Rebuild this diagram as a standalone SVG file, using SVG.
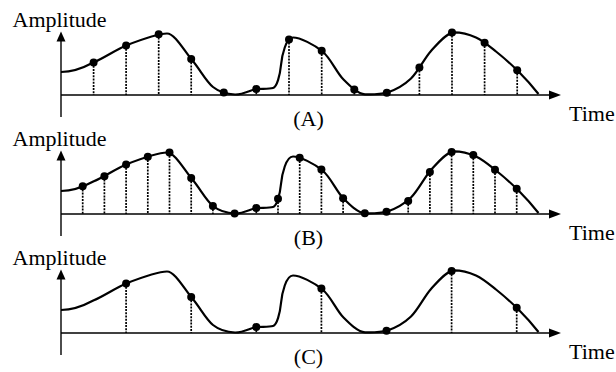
<svg xmlns="http://www.w3.org/2000/svg" xmlns:xlink="http://www.w3.org/1999/xlink" width="616" height="372" viewBox="0 0 616 372">
<style>
  .txt{font-family:"Liberation Serif","Times New Roman",serif;font-size:22px;fill:#000}
  .axis{stroke:#000;stroke-width:1.4;fill:none}
  .curve{stroke:#000;stroke-width:2.2;fill:none;stroke-linejoin:round}
  .stem{stroke:#000;stroke-width:1.7;stroke-dasharray:2 1.2}
  .dot{fill:#000}
  .head{fill:#000}
</style>
<defs>
  <path id="wave" class="curve" d="M61,72 C71,72 84,67.5 93.3,62.5 C104.1,58.1 115.1,50.2 126,45.5 C138.3,40.7 159,33.5 167,33.5 C175,33.5 184.3,51.1 192,60 C199.7,68.9 205.8,81.25 213,87 C220.2,92.75 227.5,94.2 235,94.5 C242.5,94.8 252,89.5 256,89 C262,88.5 269,89.2 273,88 C277,87 280,75 281,65 C282,55 286,37.5 293,37.5 C300,37.5 314.1,44.5 322.5,51.5 C330.9,58.5 336.4,72.4 343.5,79.5 C350.6,86.6 358,94 365,94.3 C372,94.5 380,94.5 387.5,92.5 C395.2,89.9 403.75,85.4 411,78.5 C418.25,71.6 424.1,58.7 431,51 C437.9,43.3 447,32.5 454,32.3 C461,32.3 469,34.3 476,37.5 C483,40.7 489,45.9 496,51.5 C503,57.1 510.9,63.9 518,71 C525.1,78.1 533,87 538.5,94"/>
  <g id="axes">
    <line class="axis" x1="61" y1="95" x2="551" y2="95"/>
    <polygon class="head" points="561,95 549,90.5 549,99.5"/>
    <line class="axis" x1="61" y1="117" x2="61" y2="40"/>
    <polygon class="head" points="61,31.5 56.5,41.5 65.5,41.5"/>
  </g>
</defs>

<g id="panel-A">
  <use xlink:href="#axes"/>
  <g id="stems-A">
    <line class="stem" x1="93.6" y1="62.5" x2="93.6" y2="95"/>
    <line class="stem" x1="126.1" y1="45.5" x2="126.1" y2="95"/>
    <line class="stem" x1="158.7" y1="34.3" x2="158.7" y2="95"/>
    <line class="stem" x1="191.2" y1="59" x2="191.2" y2="95"/>
    <line class="stem" x1="223.8" y1="92.5" x2="223.8" y2="95"/>
    <line class="stem" x1="256.3" y1="89" x2="256.3" y2="95"/>
    <line class="stem" x1="289" y1="39.4" x2="289" y2="95"/>
    <line class="stem" x1="321.7" y1="50.8" x2="321.7" y2="95"/>
    <line class="stem" x1="354.3" y1="89.4" x2="354.3" y2="95"/>
    <line class="stem" x1="386.8" y1="92.7" x2="386.8" y2="95"/>
    <line class="stem" x1="419.4" y1="67.4" x2="419.4" y2="95"/>
    <line class="stem" x1="452" y1="32.4" x2="452" y2="95"/>
    <line class="stem" x1="484.6" y1="42.8" x2="484.6" y2="95"/>
    <line class="stem" x1="517.2" y1="70.2" x2="517.2" y2="95"/>
  </g>
  <use xlink:href="#wave"/>
  <g id="dots-A">
    <circle class="dot" cx="93.6" cy="62.5" r="4"/>
    <circle class="dot" cx="126.1" cy="45.5" r="4"/>
    <circle class="dot" cx="158.7" cy="34.3" r="4"/>
    <circle class="dot" cx="191.2" cy="59" r="4"/>
    <circle class="dot" cx="223.8" cy="92.5" r="4"/>
    <circle class="dot" cx="256.3" cy="89" r="4"/>
    <circle class="dot" cx="289" cy="39.4" r="4"/>
    <circle class="dot" cx="321.7" cy="50.8" r="4"/>
    <circle class="dot" cx="354.3" cy="89.4" r="4"/>
    <circle class="dot" cx="386.8" cy="92.7" r="4"/>
    <circle class="dot" cx="419.4" cy="67.4" r="4"/>
    <circle class="dot" cx="452" cy="32.4" r="4"/>
    <circle class="dot" cx="484.6" cy="42.8" r="4"/>
    <circle class="dot" cx="517.2" cy="70.2" r="4"/>
  </g>
  <text class="txt" x="12.5" y="26.5">Amplitude</text>
  <text class="txt" x="569" y="120.5">Time</text>
  <text class="txt" x="308.5" y="125.5" text-anchor="middle">(A)</text>
</g>

<g id="panel-B" transform="translate(0,119)">
  <use xlink:href="#axes"/>
  <g id="stems-B">
    <line class="stem" x1="82.7" y1="67.2" x2="82.7" y2="95"/>
    <line class="stem" x1="104.4" y1="57.2" x2="104.4" y2="95"/>
    <line class="stem" x1="126.1" y1="45.5" x2="126.1" y2="95"/>
    <line class="stem" x1="147.8" y1="37.7" x2="147.8" y2="95"/>
    <line class="stem" x1="169.5" y1="33.6" x2="169.5" y2="95"/>
    <line class="stem" x1="191.2" y1="59" x2="191.2" y2="95"/>
    <line class="stem" x1="212.9" y1="87" x2="212.9" y2="95"/>
    <line class="stem" x1="234.6" y1="94.4" x2="234.6" y2="95"/>
    <line class="stem" x1="256.3" y1="89" x2="256.3" y2="95"/>
    <line class="stem" x1="278" y1="79.8" x2="278" y2="95"/>
    <line class="stem" x1="299.7" y1="38.7" x2="299.7" y2="95"/>
    <line class="stem" x1="321.4" y1="50.6" x2="321.4" y2="95"/>
    <line class="stem" x1="343.1" y1="79.2" x2="343.1" y2="95"/>
    <line class="stem" x1="364.8" y1="94.3" x2="364.8" y2="95"/>
    <line class="stem" x1="386.5" y1="92.8" x2="386.5" y2="95"/>
    <line class="stem" x1="408.2" y1="82" x2="408.2" y2="95"/>
    <line class="stem" x1="429.9" y1="52.9" x2="429.9" y2="95"/>
    <line class="stem" x1="451.6" y1="33" x2="451.6" y2="95"/>
    <line class="stem" x1="473.3" y1="36.1" x2="473.3" y2="95"/>
    <line class="stem" x1="495" y1="50.8" x2="495" y2="95"/>
    <line class="stem" x1="516.7" y1="69.8" x2="516.7" y2="95"/>
  </g>
  <use xlink:href="#wave"/>
  <g id="dots-B">
    <circle class="dot" cx="82.7" cy="67.2" r="4"/>
    <circle class="dot" cx="104.4" cy="57.2" r="4"/>
    <circle class="dot" cx="126.1" cy="45.5" r="4"/>
    <circle class="dot" cx="147.8" cy="37.7" r="4"/>
    <circle class="dot" cx="169.5" cy="33.6" r="4"/>
    <circle class="dot" cx="191.2" cy="59" r="4"/>
    <circle class="dot" cx="212.9" cy="87" r="4"/>
    <circle class="dot" cx="234.6" cy="94.4" r="4"/>
    <circle class="dot" cx="256.3" cy="89" r="4"/>
    <circle class="dot" cx="278" cy="79.8" r="4"/>
    <circle class="dot" cx="299.7" cy="38.7" r="4"/>
    <circle class="dot" cx="321.4" cy="50.6" r="4"/>
    <circle class="dot" cx="343.1" cy="79.2" r="4"/>
    <circle class="dot" cx="364.8" cy="94.3" r="4"/>
    <circle class="dot" cx="386.5" cy="92.8" r="4"/>
    <circle class="dot" cx="408.2" cy="82" r="4"/>
    <circle class="dot" cx="429.9" cy="52.9" r="4"/>
    <circle class="dot" cx="451.6" cy="33" r="4"/>
    <circle class="dot" cx="473.3" cy="36.1" r="4"/>
    <circle class="dot" cx="495" cy="50.8" r="4"/>
    <circle class="dot" cx="516.7" cy="69.8" r="4"/>
  </g>
  <text class="txt" x="12.5" y="26.5">Amplitude</text>
  <text class="txt" x="569" y="120.5">Time</text>
  <text class="txt" x="308.5" y="125.5" text-anchor="middle">(B)</text>
</g>

<g id="panel-C" transform="translate(0,238)">
  <use xlink:href="#axes"/>
  <g id="stems-C">
    <line class="stem" x1="126.1" y1="45.5" x2="126.1" y2="95"/>
    <line class="stem" x1="191.2" y1="59" x2="191.2" y2="95"/>
    <line class="stem" x1="256.3" y1="89" x2="256.3" y2="95"/>
    <line class="stem" x1="321.4" y1="50.6" x2="321.4" y2="95"/>
    <line class="stem" x1="386.5" y1="92.8" x2="386.5" y2="95"/>
    <line class="stem" x1="451.6" y1="33" x2="451.6" y2="95"/>
    <line class="stem" x1="516.7" y1="69.8" x2="516.7" y2="95"/>
  </g>
  <use xlink:href="#wave"/>
  <g id="dots-C">
    <circle class="dot" cx="126.1" cy="45.5" r="4"/>
    <circle class="dot" cx="191.2" cy="59" r="4"/>
    <circle class="dot" cx="256.3" cy="89" r="4"/>
    <circle class="dot" cx="321.4" cy="50.6" r="4"/>
    <circle class="dot" cx="386.5" cy="92.8" r="4"/>
    <circle class="dot" cx="451.6" cy="33" r="4"/>
    <circle class="dot" cx="516.7" cy="69.8" r="4"/>
  </g>
  <text class="txt" x="12.5" y="26.5">Amplitude</text>
  <text class="txt" x="569" y="120.5">Time</text>
  <text class="txt" x="308.5" y="125.5" text-anchor="middle">(C)</text>
</g>
</svg>
